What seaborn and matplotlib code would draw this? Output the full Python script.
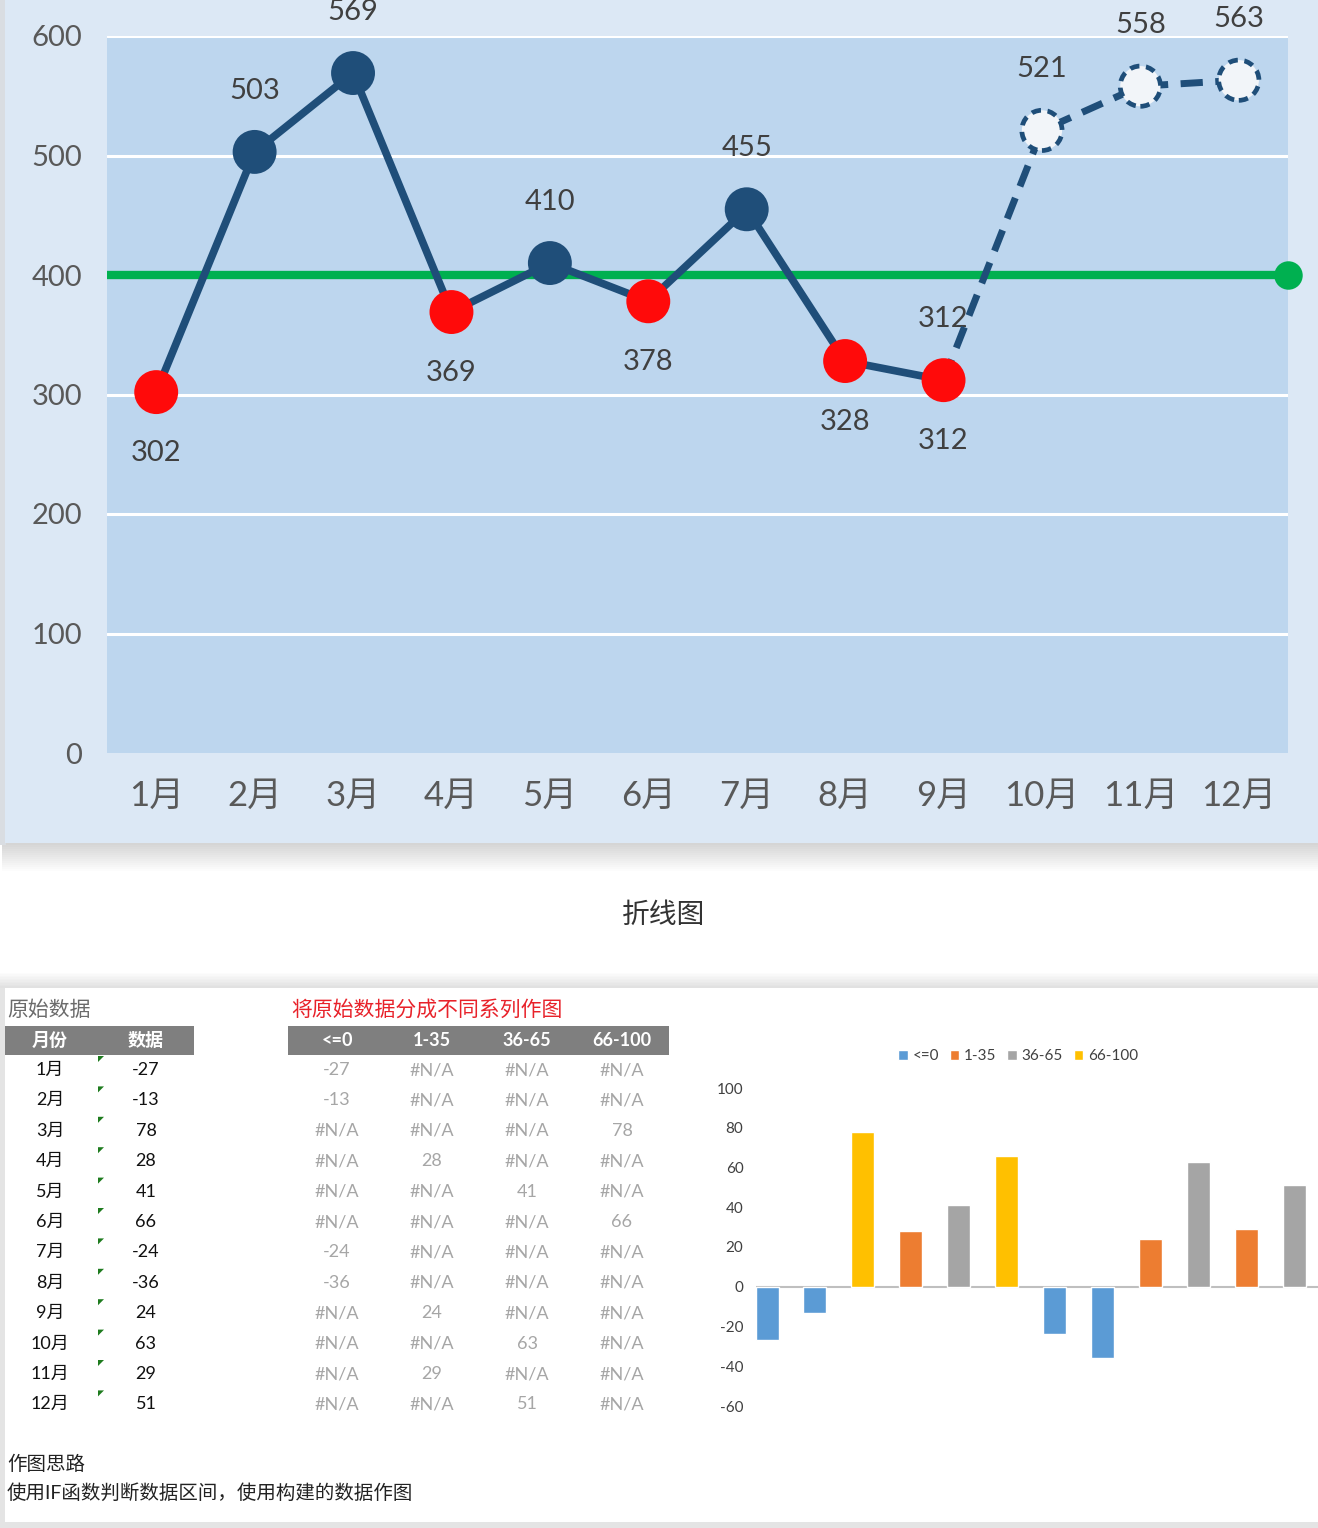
import numpy as np
import pandas as pd
import matplotlib
matplotlib.use("Agg")
import matplotlib.pyplot as plt
import seaborn as sns
from matplotlib.patches import Rectangle, Polygon

# ---------------- data ----------------
months = ['1月', '2月', '3月', '4月', '5月', '6月', '7月', '8月', '9月', '10月', '11月', '12月']
sales = [302, 503, 569, 369, 410, 378, 455, 328, 312, 521, 558, 563]
target = 400
n_actual = 9          # months 1-9 actual (solid), 9-12 forecast (dashed)
y_ticks_top = [0, 100, 200, 300, 400, 500, 600]

raw_values = [-27, -13, 78, 28, 41, 66, -24, -36, 24, 63, 29, 51]
series_names = ['<=0', '1-35', '36-65', '66-100']
s_le0 = [-27, -13, None, None, None, None, -24, -36, None, None, None, None]
s_1_35 = [None, None, None, 28, None, None, None, None, 24, None, 29, None]
s_36_65 = [None, None, None, None, 41, None, None, None, None, 63, None, 51]
s_66_100 = [None, None, 78, None, None, 66, None, None, None, None, None, None]
series_colors = ['#5b9bd5', '#ed7d31', '#a5a5a5', '#ffc000']
bar_ticks = [-60, -40, -20, 0, 20, 40, 60, 80, 100]

# ---------------- style ----------------
sns.set_theme(style='white')
FAM = ['Lato', 'Noto Sans CJK SC', 'DejaVu Sans']
plt.rcParams['font.family'] = FAM
plt.rcParams['axes.unicode_minus'] = False

W, H = 1318, 1528
fig = plt.figure(figsize=(W / 100, H / 100), dpi=100)
fig.patch.set_facecolor('white')


def px_axes(x0, y0, x1, y1, **kw):
    return fig.add_axes([x0 / W, 1 - y1 / H, (x1 - x0) / W, (y1 - y0) / H], **kw)


# background canvas in pixel coordinates
bg = fig.add_axes([0, 0, 1, 1], zorder=-10)
bg.set_xlim(0, W)
bg.set_ylim(H, 0)
bg.axis('off')

# top panel + shadow
for k in range(14):
    bg.add_patch(Rectangle((2, 843), W, 2 + 2 * k, color='#000000', alpha=0.012, lw=0))
bg.add_patch(Rectangle((0, 0), 6, 845, color='#d9dde2', lw=0))
bg.add_patch(Rectangle((5, 0), W - 5, 843, color='#dce8f5', lw=0))

# bottom panel + shadow
for k in range(10):
    bg.add_patch(Rectangle((0, 988 - 2 - 1.5 * k), W, 1.5 * k + 2, color='#000000', alpha=0.012, lw=0))
bg.add_patch(Rectangle((0, 988), W, H - 988, color='#e4e4e4', lw=0))
bg.add_patch(Rectangle((5, 988), W - 5, 534, color='white', lw=0))

navy = '#1f4e79'
red = '#ff0a0a'
green = '#00b050'
tick_col = '#595959'

# ---------------- top line chart ----------------
ax1 = px_axes(107, 36, 1288, 753)
ax1.set_facecolor('#bdd6ee')
ax1.set_xlim(0, 12)
ax1.set_ylim(0, 600)
for sp in ax1.spines.values():
    sp.set_visible(False)
for t in y_ticks_top[1:]:
    ax1.axhline(t, color='white', lw=2.2, zorder=1)

df = pd.DataFrame({'x': np.arange(len(months)) + 0.5, 'v': sales, 'month': months})
df['zone'] = np.where(df['v'] >= target, 'above', 'below')
solid = df.iloc[:n_actual]
fcst = df.iloc[n_actual - 1:]

ax1.axhline(target, color=green, lw=6, zorder=2)
ax1.scatter([ax1.get_xlim()[1]], [target], s=420, color=green, zorder=6, clip_on=False, lw=0)

sns.lineplot(data=solid, x='x', y='v', color=navy, lw=5.5, ax=ax1, zorder=4, sort=False)
sns.lineplot(data=fcst, x='x', y='v', color=navy, lw=5, ax=ax1, zorder=4, sort=False,
             linestyle=(0, (3.2, 1.8)))
sns.scatterplot(data=solid, x='x', y='v', hue='zone', palette={'above': navy, 'below': red},
                s=1000, linewidth=0, legend=False, ax=ax1, zorder=5, clip_on=False)
sns.scatterplot(data=df.iloc[n_actual:], x='x', y='v', s=840, color='#f2f5f9', edgecolor=navy,
                linewidth=3.4, linestyle=(0, (2.0, 1.4)), legend=False, ax=ax1, zorder=5,
                clip_on=False)

lab_kw = dict(textcoords='offset points', ha='center', va='center', fontsize=21,
              color='#404040', annotation_clip=False)
for _, r in solid.iterrows():
    dy = 44 if r['v'] >= target else -44
    ax1.annotate(str(r['v']), (r['x'], r['v']), xytext=(0, dy), zorder=3, **lab_kw)
for _, r in fcst.iterrows():
    ax1.annotate(str(r['v']), (r['x'], r['v']), xytext=(0, 44), zorder=3, **lab_kw)

ax1.set_xticks(df['x'])
ax1.set_xticklabels(months)
ax1.set_yticks(y_ticks_top)
ax1.tick_params(axis='x', length=0, pad=19, labelsize=25, labelcolor=tick_col)
ax1.tick_params(axis='y', length=0, pad=18, labelsize=21, labelcolor=tick_col)
ax1.set_xlabel('')
ax1.set_ylabel('')

fig.text(664 / W, 1 - 915 / H, '折线图', ha='center', va='center', fontsize=20, color='#333333')

# ---------------- tables ----------------
txt = dict(ha='center', va='center', fontsize=13)
bg.text(7, 1010, '原始数据', ha='left', va='center', fontsize=15, color='#6b6b6b')
bg.text(291, 1010, '将原始数据分成不同系列作图', ha='left', va='center', fontsize=15, color='#e8222a')
bg.add_patch(Rectangle((5, 1026), 189, 29, color='#7f7f7f', lw=0))
bg.add_patch(Rectangle((288, 1026), 381, 29, color='#7f7f7f', lw=0))
bg.text(50, 1040, '月份', color='white', fontweight='bold', **txt)
bg.text(146, 1040, '数据', color='white', fontweight='bold', **txt)
col_x = [337, 432, 527, 622]
for cx, nm in zip(col_x, series_names):
    bg.text(cx, 1040, nm, color='white', fontweight='bold', **txt)

row_y0, row_dy = 1070, 30.4
series_cols = [s_le0, s_1_35, s_36_65, s_66_100]
for i, m in enumerate(months):
    y = row_y0 + i * row_dy
    bg.text(50, y, m, color='#111111', **txt)
    bg.text(146, y, str(raw_values[i]), color='#111111', **txt)
    bg.add_patch(Polygon([(98, y - 14), (104, y - 14), (98, y - 8)], closed=True,
                         color='#1e7b1e', lw=0))
    for cx, col in zip(col_x, series_cols):
        v = col[i]
        bg.text(cx, y, '#N/A' if v is None else str(v), color='#a6a6a6', **txt)

bg.text(7, 1464, '作图思路', ha='left', va='center', fontsize=14, color='#222222')
bg.text(7, 1493, '使用IF函数判断数据区间，使用构建的数据作图', ha='left', va='center',
        fontsize=14, color='#222222')

# ---------------- bar chart ----------------
rows = []
for nm, col in zip(series_names, series_cols):
    for m, v in zip(months, col):
        if v is not None:
            rows.append({'month': m, 'series': nm, 'value': v})
long = pd.DataFrame(rows)

ax2 = px_axes(756, 1088, 1318, 1406)
ax2.set_facecolor('none')
sns.barplot(data=long, x='month', y='value', hue='series', order=months, hue_order=series_names,
            palette=dict(zip(series_names, series_colors)), dodge=False, width=0.48,
            saturation=1, errorbar=None, ax=ax2, zorder=3)
ax2.set_xlim(-0.23, 11.5)
ax2.set_ylim(-60, 100)
ax2.set_yticks(bar_ticks)
ax2.axhline(0, color='#bfbfbf', lw=1.5, zorder=2)
for sp in ax2.spines.values():
    sp.set_visible(False)
ax2.tick_params(axis='y', length=0, pad=9, labelsize=11, labelcolor='#404040')
ax2.tick_params(axis='x', length=0, labelbottom=False)
ax2.set_xlabel('')
ax2.set_ylabel('')
sns.move_legend(ax2, 'center', bbox_to_anchor=(1018 / W, 1 - 1056 / H),
                bbox_transform=fig.transFigure, ncol=4, frameon=False, title=None,
                fontsize=11, handlelength=0.65, handleheight=0.65, handletextpad=0.3,
                columnspacing=0.7, labelcolor='#404040')

fig.savefig('out.png', dpi=100)
